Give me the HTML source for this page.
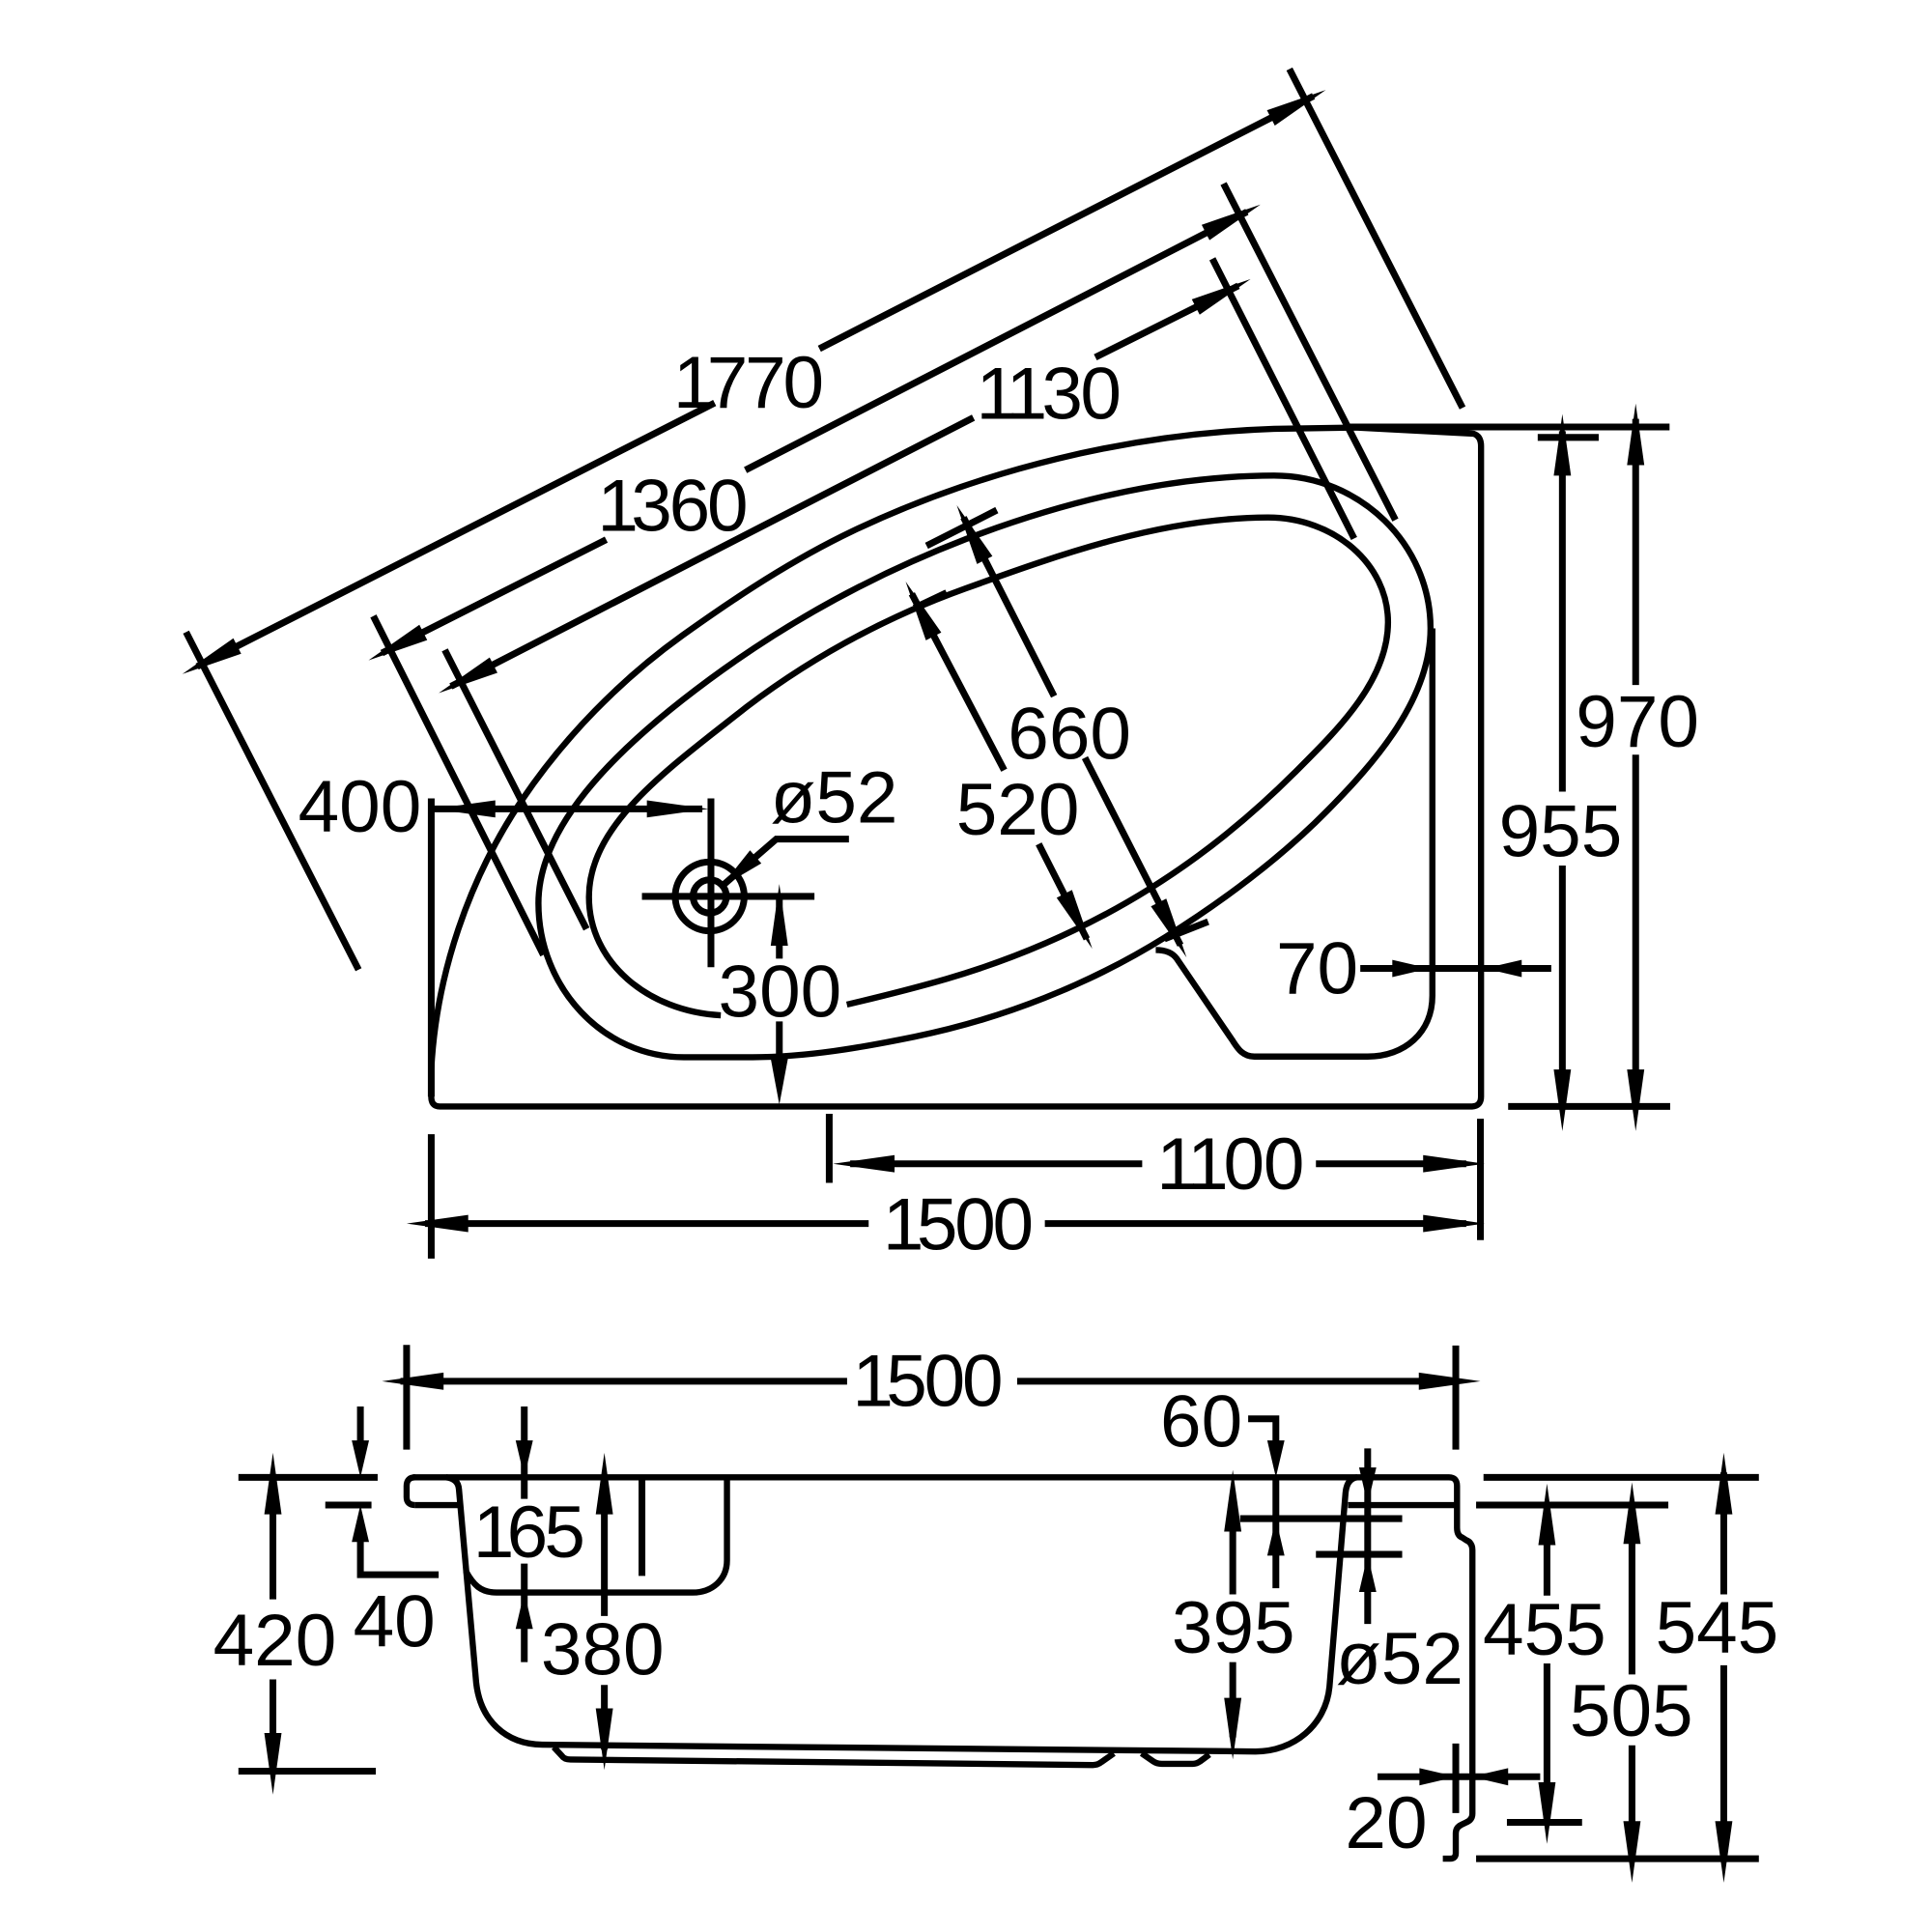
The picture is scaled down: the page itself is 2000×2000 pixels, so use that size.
<!DOCTYPE html>
<html>
<head>
<meta charset="utf-8">
<title>Bath dimensions</title>
<style>
html,body{margin:0;padding:0;background:#fff;width:2000px;height:2000px;overflow:hidden}
svg{display:block}
text{font-family:"Liberation Sans",sans-serif;font-size:60px;fill:#000;text-anchor:middle;stroke:none}
</style>
</head>
<body>
<svg xmlns="http://www.w3.org/2000/svg" width="2000" height="2000" viewBox="0 0 1568 1568">
<defs>
<polygon id="a" points="0,0 -50,-7 -50,7" fill="#000"/>
<polygon id="b" points="0,0 -30,-7 -30,7" fill="#000"/>
</defs>
<rect width="1568" height="1568" fill="#fff"/>
<g fill="none" stroke="#000" stroke-width="5">
<!-- plan: outer rim -->
<path d="M350 868C354 791 380.3 713.5 423.4 649.6C458.1 598.1 503.8 551.6 554 515.6C597.7 484.3 643.4 454.2 692 431C797 381 917 352 1034 348L1100 347L1196 352Q1202 354 1202 362L1202 890Q1202 898 1194 898L357 898Q350 898 350 890Z"/>
<!-- plan: basin rim -->
<path d="M784 437.5C863.4 407.2 949 386 1034 386C1104 386 1161 442 1161 510C1161 567 1116.7 618 1076.7 658.5C1039.7 696.1 991 732.4 946 760.4C884 799.1 813.7 826.8 742.2 841.4C699 850.2 655 858 611 858L555 858C490 858 437 802 437 733C437 670 500.5 610 554 568C624 513 701 469.5 784 437.5Z"/>
<!-- plan: basin inner -->
<path d="M585 824C526 821 478 781 478 728C478 668 545 622 606 573.7C660 532.7 720 500.5 784 477.5C863 448.9 945 420 1029 420C1083 420 1126.5 458 1126.5 505C1126.5 553 1084.6 593.2 1050.6 627.2C1015 662.7 975.5 694.8 933 721.3C882 753.1 825.9 777.6 768.3 794.4C740 802.6 714 809 687.3 815.3"/>
<!-- plan: seat -->
<path d="M1162.5 510V808C1162.5 838 1140 857.5 1110 857.5H1018C1008 857.5 1004 850 1000 844L955 778Q950 771 938 771"/>
<!-- elevation: rim and body -->
<path d="M337 1221.5H372M335 1199H1176Q1182.5 1199 1182.5 1206V1240Q1182.5 1246.5 1187 1248L1190 1250Q1195 1252 1195 1258V1472Q1195 1477 1190 1479L1186 1481Q1181.5 1483 1181.5 1488V1504Q1181.5 1508.5 1177 1508.5H1171"/>
<path d="M337 1199Q330 1199 330 1206V1215Q330 1221.5 337 1221.5"/>
<path d="M362 1199Q372 1200 372.5 1209L386.5 1366C390 1396 410 1415.5 440 1416L1019 1421.5C1050 1421.5 1076 1400 1079 1369L1092 1212Q1093 1200 1101.5 1199"/>
<path d="M1094 1221.5H1182.5"/>
<path d="M449.5 1418L456 1425Q458 1428 463 1428L887 1432.5Q891 1432.5 894 1430L904 1423"/>
<path d="M926.5 1423L936 1429.5Q939 1431.5 943 1431.5H968Q971 1431.5 974 1429.5L981.5 1424"/>
<path d="M378 1275C384 1286 390 1292.5 403 1292.5H562C578 1292.5 590 1282 590 1266.5V1199"/>
</g>
<g fill="none" stroke="#000" stroke-width="5.5">
<path d="M350 648V890"/>
<path d="M1094 346.5H1355"/>
<!-- slanted dimension: 1770 -->
<path d="M160 541L580 327M665 283L1066 78"/>
<path d="M151 513L291 787M1046.5 56L1187 331"/>
<!-- 1360 -->
<path d="M310 530L492 438M605 381.5L1012 172"/>
<path d="M303 500L441 775M993 149L1132.5 422"/>
<!-- 1130 -->
<path d="M366 557L790 339M889 290L1005 232"/>
<path d="M361 527.5L476 754M984 210L1099 437"/>
<!-- 660 -->
<path d="M855.5 565L782 420M880.5 615L958 767"/>
<path d="M752 443L809 414M945 762L980.5 748"/>
<!-- 520 -->
<path d="M740 482L815 625M843 685L882 762"/>
<path d="M742 493.5L768.3 481"/>
<!-- 400 and drain -->
<path d="M352 656.5H570M577 648V785"/>
<circle cx="576" cy="727.5" r="28"/>
<circle cx="576" cy="727.5" r="13.5"/>
<path d="M521 727.5H661"/>
<path d="M689 681H630L585 720"/>
<!-- 300 -->
<path d="M632.5 730V778M632.5 829V880"/>
<!-- 70 -->
<path d="M1104 786H1259"/>
<!-- 955 / 970 -->
<path d="M1268 350V642.5M1268 702.5V900M1248 355H1297.5"/>
<path d="M1327.5 340V556M1327.5 612.5V900"/>
<path d="M1224 898H1355.5"/>
<!-- 1100 / 1500 -->
<path d="M673 904V960M690 944.5H927M1068 944.5H1190M1201.5 908V1006.5"/>
<path d="M350 920.5V1021.5M345 993H705M848 993H1190"/>
<path d="M521 1199V1279"/>
<!-- 1500 elevation -->
<path d="M330 1091.5V1176.5M325 1121H687.5M825.5 1121H1170M1181.5 1092V1176.5"/>
<!-- 420 -->
<path d="M193.5 1199H306.5M193.5 1437.5H305M221.5 1215V1298M221.5 1363V1425"/>
<!-- 40 -->
<path d="M292.5 1141.5V1180M292.5 1240V1278H356M264 1221.5H301.5"/>
<!-- 165 -->
<path d="M425.5 1141.5V1216.5M425.5 1269V1349"/>
<!-- 380 -->
<path d="M490.5 1215V1311.5M490.5 1367.5V1420"/>
<!-- 395 -->
<path d="M1000.5 1225V1294M1000.5 1349V1410"/>
<!-- 60 -->
<path d="M1013 1151.5H1035.5V1180M1035.5 1199V1289M1006.5 1232.5H1138M1068 1261.5H1138"/>
<!-- o52 elevation -->
<path d="M1110 1175.5V1318"/>
<!-- right stack -->
<path d="M1204 1199H1427.5M1198 1221.5H1354M1198 1508.5H1427.5M1223 1479H1284"/>
<path d="M1255.5 1220V1295M1255.5 1350V1480"/>
<path d="M1324.5 1220V1359M1324.5 1416.5V1510"/>
<path d="M1399 1195V1294M1399 1351.5V1510"/>
<!-- 20 -->
<path d="M1118 1442H1250M1181.5 1415V1471.5"/>
</g>
<!-- arrowheads -->
<g>
<use href="#a" transform="translate(148 547) rotate(153)"/>
<use href="#a" transform="translate(1076 73) rotate(-27)"/>
<use href="#a" transform="translate(299 536) rotate(153)"/>
<use href="#a" transform="translate(1023 166) rotate(-27)"/>
<use href="#a" transform="translate(356 562.5) rotate(153)"/>
<use href="#a" transform="translate(1015 226.5) rotate(-27)"/>
<use href="#a" transform="translate(776.5 410) rotate(-117)"/>
<use href="#a" transform="translate(963 777) rotate(63)"/>
<use href="#a" transform="translate(735 472) rotate(-117)"/>
<use href="#a" transform="translate(886.5 770) rotate(63)"/>
<use href="#a" transform="translate(352 656.5) rotate(180)"/>
<use href="#a" transform="translate(575 656.5)"/>
<g transform="translate(585 720) rotate(139) scale(.75 1)"><use href="#a"/></g>
<use href="#a" transform="translate(632.5 717.5) rotate(-90)"/>
<use href="#b" transform="translate(632.5 896.5) rotate(90) scale(1.25 1)"/>
<use href="#b" transform="translate(1160 786)"/>
<use href="#b" transform="translate(1205 786) rotate(180)"/>
<use href="#a" transform="translate(1268 336) rotate(-90)"/>
<use href="#a" transform="translate(1268 918) rotate(90)"/>
<use href="#a" transform="translate(1327.5 327.5) rotate(-90)"/>
<use href="#a" transform="translate(1327.5 918) rotate(90)"/>
<use href="#a" transform="translate(676 944.5) rotate(180)"/>
<use href="#a" transform="translate(1205 944.5)"/>
<use href="#a" transform="translate(330 993) rotate(180)"/>
<use href="#a" transform="translate(1205 993)"/>
<use href="#a" transform="translate(310 1121) rotate(180)"/>
<use href="#a" transform="translate(1201.5 1121)"/>
<use href="#a" transform="translate(221.5 1179) rotate(-90)"/>
<use href="#a" transform="translate(221.5 1456.5) rotate(90)"/>
<use href="#b" transform="translate(292.5 1199) rotate(90)"/>
<use href="#b" transform="translate(292.5 1221.5) rotate(-90)"/>
<use href="#b" transform="translate(425.5 1199) rotate(90)"/>
<use href="#b" transform="translate(425.5 1292) rotate(-90)"/>
<use href="#a" transform="translate(490.5 1179) rotate(-90)"/>
<use href="#a" transform="translate(490.5 1436.5) rotate(90)"/>
<use href="#a" transform="translate(1000.5 1193) rotate(-90)"/>
<use href="#a" transform="translate(1000.5 1428) rotate(90)"/>
<use href="#b" transform="translate(1035.5 1199) rotate(90)"/>
<use href="#b" transform="translate(1035.5 1232.5) rotate(-90)"/>
<use href="#b" transform="translate(1110 1221) rotate(90)"/>
<use href="#b" transform="translate(1110 1262) rotate(-90)"/>
<use href="#a" transform="translate(1255.5 1204) rotate(-90)"/>
<use href="#a" transform="translate(1255.5 1496.5) rotate(90)"/>
<use href="#a" transform="translate(1324.5 1203) rotate(-90)"/>
<use href="#a" transform="translate(1324.5 1528) rotate(90)"/>
<use href="#a" transform="translate(1399 1179) rotate(-90)"/>
<use href="#a" transform="translate(1399 1528) rotate(90)"/>
<use href="#b" transform="translate(1182 1442)"/>
<use href="#b" transform="translate(1194 1442) rotate(180)"/>
</g>
<!-- labels -->
<text x="606.3" y="331"><tspan style="letter-spacing:-6px">1</tspan><tspan style="letter-spacing:-2.5px">770</tspan></text>
<text x="544.8" y="431"><tspan style="letter-spacing:-6px">1</tspan><tspan style="letter-spacing:-2.5px">360</tspan></text>
<text x="850.2" y="340"><tspan style="letter-spacing:-4.5px">11</tspan><tspan style="letter-spacing:-2px">30</tspan></text>
<text x="292" y="675">400</text>
<text x="677" y="667.5">ø52</text>
<text x="868" y="616">660</text>
<text x="826" y="677.5">520</text>
<text x="1329" y="606">970</text>
<text x="1266.5" y="695">955</text>
<text x="1069" y="806.5">70</text>
<text x="633" y="825">300</text>
<text x="998.2" y="965"><tspan style="letter-spacing:-4px">11</tspan><tspan style="letter-spacing:-1px">00</tspan></text>
<text x="776.5" y="1014"><tspan style="letter-spacing:-6px">1</tspan><tspan style="letter-spacing:-2.5px">500</tspan></text>
<text x="751.8" y="1141"><tspan style="letter-spacing:-6px">1</tspan><tspan style="letter-spacing:-2.5px">500</tspan></text>
<text x="975" y="1174">60</text>
<text x="428" y="1264"><tspan style="letter-spacing:-6px">1</tspan><tspan style="letter-spacing:-3px">65</tspan></text>
<text x="223" y="1351.5">420</text>
<text x="320" y="1336.5">40</text>
<text x="489" y="1359">380</text>
<text x="1001" y="1341.5">395</text>
<text x="1136" y="1366.5">ø52</text>
<text x="1253.5" y="1343">455</text>
<text x="1324" y="1409">505</text>
<text x="1393.5" y="1341.5">545</text>
<text x="1125" y="1500">20</text>
</svg>
</body>
</html>
